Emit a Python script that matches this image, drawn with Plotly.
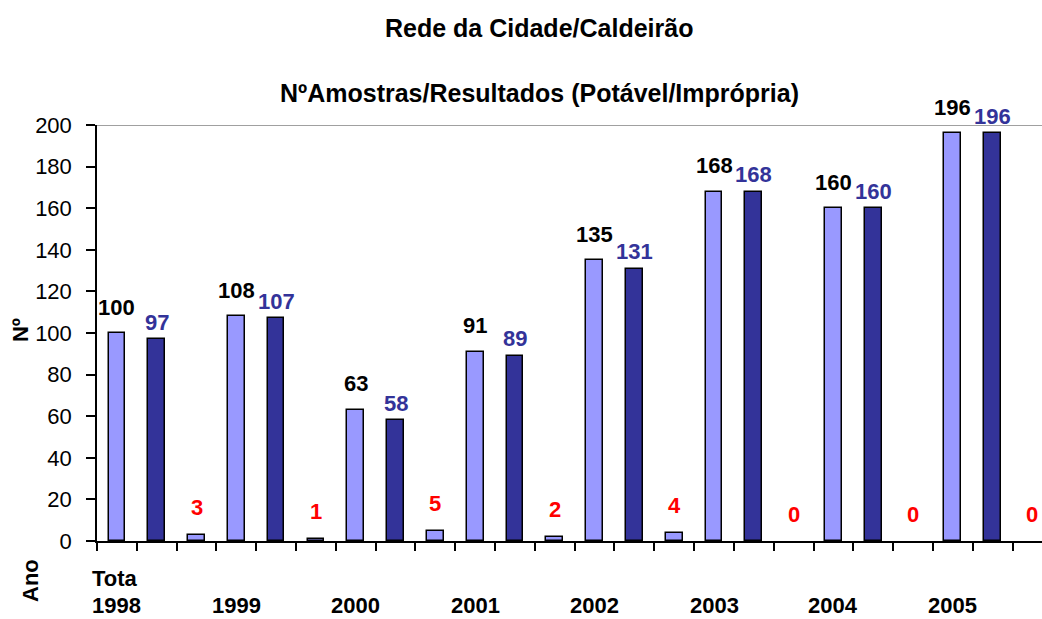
import plotly.graph_objects as go

years = ["1998", "1999", "2000", "2001", "2002", "2003", "2004", "2005"]
total = [100, 108, 63, 91, 135, 168, 160, 196]
potavel = [97, 107, 58, 89, 131, 168, 160, 196]
impropria = [3, 1, 5, 2, 4, 0, 0, 0]
yticks = [0, 20, 40, 60, 80, 100, 120, 140, 160, 180, 200]

FONT = "Arial, Liberation Sans, sans-serif"
LIGHT = "#9999FF"
DARK = "#333399"

x_total = [3 * i for i in range(len(years))]
x_pot = [3 * i + 1 for i in range(len(years))]
x_imp = [3 * i + 2 for i in range(len(years))]

fig = go.Figure()
bw = 0.42


def edge(vals):
    return dict(color="black", width=[1.5 if v > 0 else 0 for v in vals])


fig.add_trace(go.Bar(x=x_total, y=total, width=bw, marker=dict(color=LIGHT, line=edge(total)), name="Total"))
fig.add_trace(go.Bar(x=x_pot, y=potavel, width=bw, marker=dict(color=DARK, line=edge(potavel)), name="Potável"))
fig.add_trace(go.Bar(x=x_imp, y=impropria, width=bw, marker=dict(color=LIGHT, line=edge(impropria)), name="Imprópria"))

ann = []
LS = 22
for xs, vals, col, shift in [(x_total, total, "black", 26), (x_pot, potavel, DARK, 17), (x_imp, impropria, "#FF0000", 27)]:
    for xv, v in zip(xs, vals):
        ann.append(dict(x=xv, y=v, xref="x", yref="y", text=f"<b>{v}</b>", showarrow=False,
                        yshift=shift, font=dict(family=FONT, size=LS, color=col), xanchor="center", yanchor="middle"))

# year labels under axis
for xv, yr in zip(x_total, years):
    ann.append(dict(x=xv, y=-0.156, xref="x", yref="paper", text=f"<b>{yr}</b>", showarrow=False,
                    font=dict(family=FONT, size=LS, color="black"), xanchor="center", yanchor="middle"))
ann.append(dict(x=-0.0074, y=-0.089, xref="paper", yref="paper", text="<b>Tota</b>", showarrow=False,
                font=dict(family=FONT, size=LS, color="black"), xanchor="left", yanchor="middle"))
ann.append(dict(x=-0.071, y=-0.094, xref="paper", yref="paper", text="<b>Ano</b>", showarrow=False, textangle=-90,
                font=dict(family=FONT, size=LS, color="black"), xanchor="center", yanchor="middle"))
ann.append(dict(x=-0.0815, y=0.507, xref="paper", yref="paper", text="<b>Nº</b>", showarrow=False, textangle=-90,
                font=dict(family=FONT, size=LS, color="black"), xanchor="center", yanchor="middle"))
ann.append(dict(x=0.468, y=1.233, xref="paper", yref="paper", text="<b>Rede da Cidade/Caldeirão</b>", showarrow=False,
                font=dict(family=FONT, size=25, color="black"), xanchor="center", yanchor="middle"))
ann.append(dict(x=0.468, y=1.077, xref="paper", yref="paper", text="<b>NºAmostras/Resultados (Potável/Imprópria)</b>",
                showarrow=False, font=dict(family=FONT, size=25, color="black"), xanchor="center", yanchor="middle"))

fig.update_layout(
    width=1042, height=619,
    margin=dict(l=97, r=0, t=125, b=78),
    paper_bgcolor="white", plot_bgcolor="white",
    showlegend=False,
    annotations=ann,
    bargap=0,
    shapes=[dict(type="line", xref="paper", yref="y", x0=0, x1=1, y0=200, y1=200,
                 line=dict(color="#808080", width=1.5))],
)
fig.update_xaxes(range=[-0.5, 23.24], tickvals=[k + 0.5 for k in range(-1, 24)], showticklabels=False,
                 ticks="outside", ticklen=8, tickcolor="black", tickwidth=1.5,
                 showline=True, linecolor="black", linewidth=1.5, showgrid=False, zeroline=False)
fig.update_yaxes(range=[0, 200], tickvals=yticks, ticks="outside", ticklen=9, tickcolor="black", tickwidth=1.5,
                 showline=True, linecolor="black", linewidth=1.5, showgrid=False, zeroline=False,
                 tickfont=dict(family=FONT, size=22, color="black"), ticklabelstandoff=10)

fig.write_html("out.html", config={"displayModeBar": False},
               post_script="document.body.style.margin='0';document.body.style.overflow='hidden';")
